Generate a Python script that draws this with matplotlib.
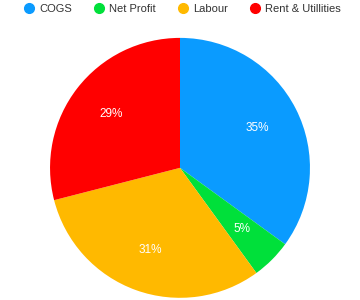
import matplotlib
matplotlib.use("Agg")
import matplotlib.pyplot as plt
from matplotlib.lines import Line2D

plt.rcParams['font.family'] = ['Liberation Sans', 'DejaVu Sans']

labels = ["COGS", "Net Profit", "Labour", "Rent & Utillities"]
values = [35, 5, 31, 29]
colors = ["#0A9BFF", "#00E03A", "#FFB900", "#FF0000"]

fig = plt.figure(figsize=(3.6, 3.0), dpi=100)
ax = fig.add_axes([0.139, 0.007, 0.722, 0.867])

wedges, texts, autotexts = ax.pie(values, colors=colors, startangle=90, counterclock=False,
                                  autopct="%d%%", pctdistance=0.67,
                                  textprops={"color": "white", "fontsize": 8.5})
ax.set_xlim(-1, 1)
ax.set_ylim(-1, 1)
ax.set_aspect("equal")

handles = [Line2D([], [], marker="o", linestyle="", markersize=7, markerfacecolor=c,
                  markeredgecolor=c) for c in colors]
fig.legend(handles, labels, loc="upper center", bbox_to_anchor=(0.506, 1.02), ncol=4,
           frameon=False, fontsize=8, handletextpad=0.45, columnspacing=1.9,
           handlelength=1.0, labelcolor="#333333")

fig.savefig("out.png", dpi=100)
